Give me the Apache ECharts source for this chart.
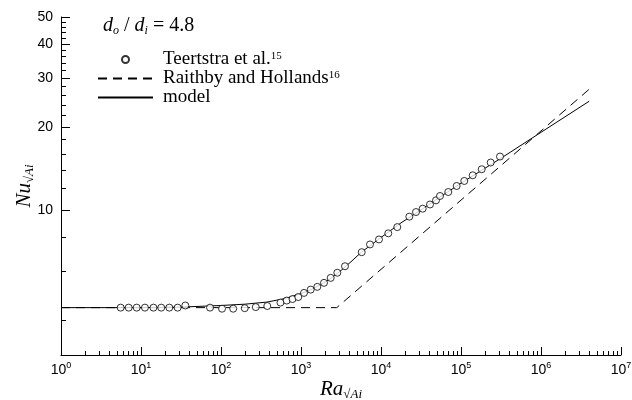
<!DOCTYPE html>
<html>
<head>
<meta charset="utf-8">
<script src="https://cdn.jsdelivr.net/npm/echarts@6/dist/echarts.min.js"></script>
<style>html,body{margin:0;padding:0;background:#fff}#c{width:632px;height:400px}</style>
</head>
<body>
<div id="c"></div>
<script>
// Teertstra et al. data (circles)
const raData = [5.57, 7.01, 8.83, 11.2, 14.3, 17.9, 22.6, 28.7, 35.8, 72.9, 103, 142, 198, 272, 379, 554, 663, 783, 925, 1090, 1322, 1599, 1939, 2350, 2843, 3548, 5740, 7288, 9441, 12340, 15990, 22590, 27380, 33190, 40980, 48700, 54640, 69340, 88310, 109900, 140000, 181500, 235000, 307300];
const nuData = [4.45, 4.45, 4.45, 4.45, 4.45, 4.45, 4.45, 4.45, 4.53, 4.45, 4.41, 4.41, 4.43, 4.47, 4.51, 4.64, 4.72, 4.78, 4.86, 5.03, 5.17, 5.29, 5.47, 5.70, 5.95, 6.28, 7.06, 7.53, 7.85, 8.26, 8.70, 9.49, 9.86, 10.14, 10.5, 10.87, 11.27, 11.65, 12.25, 12.77, 13.39, 14.08, 14.89, 15.65];
// Raithby and Hollands (dashed)
const raRH = [1, 2800, 4000000];
const nuRH = [4.45, 4.45, 27.4];
// model (solid)
const raModel = [1, 10, 31.6, 100, 200, 376, 631, 1000, 1334, 1778, 2371, 3162, 4217, 5623, 10000, 17780, 31620, 56230, 100000, 316200, 794300, 4000000];
const nuModel = [4.45, 4.45, 4.47, 4.53, 4.58, 4.66, 4.80, 5.00, 5.17, 5.39, 5.68, 6.06, 6.52, 7.04, 7.98, 9.01, 10.04, 11.24, 12.53, 15.43, 18.34, 24.8];
// ticks
const xMajorTicks = [1, 10, 100, 1000, 10000, 100000, 1000000, 10000000];
const xMinorTicks = [];
for (let k = 0; k < 7; k++) for (let m = 2; m <= 9; m++) xMinorTicks.push(m * Math.pow(10, k));
const yLabelTicks = [10, 20, 30, 40, 50];
const yMinorTicks = [4, 6, 8, 12, 14, 16, 18, 22, 24, 26, 28, 32, 34, 36, 38, 42, 44, 46, 48];
const supMap = {'Teertstra et al.': '15', 'Raithby and Hollands': '16'};

const zip = (a, b) => a.map((v, i) => [v, b[i]]);
const serif = 'Liberation Serif';
const sans = 'Liberation Sans';

const chart = echarts.init(document.getElementById('c'), null, {renderer: 'canvas'});
chart.setOption({
  animation: false,
  backgroundColor: '#fff',
  title: {
    left: 103, top: 15, padding: 0,
    text: '{i|d}{sb|o}{t| / }{i|d}{sb|i}{t| = 4.8}',
    textStyle: {
      fontWeight: 'normal',
      rich: {
        i: {fontFamily: serif, fontStyle: 'italic', fontWeight: 'normal', fontSize: 20, lineHeight: 22, color: '#000'},
        sb: {fontFamily: serif, fontStyle: 'italic', fontWeight: 'normal', fontSize: 12, lineHeight: 11, verticalAlign: 'bottom', color: '#000'},
        t: {fontFamily: serif, fontWeight: 'normal', fontSize: 20, lineHeight: 22, color: '#000'}
      }
    }
  },
  legend: {
    left: 97, top: 50, orient: 'vertical', padding: 0,
    itemWidth: 55, itemHeight: 7, itemGap: 0,
    data: [
      {name: 'Teertstra et al.'},
      {name: 'Raithby and Hollands', itemStyle: {opacity: 0}},
      {name: 'model', itemStyle: {opacity: 0}}
    ],
    formatter: function (name) {
      const s = supMap[name];
      return '{n|' + name + '}' + (s ? '{s|' + s + '}' : '');
    },
    textStyle: {
      rich: {
        n: {fontFamily: serif, fontSize: 19, lineHeight: 18.5, color: '#000', padding: [0, 0, 0, 5]},
        s: {fontFamily: serif, fontSize: 11, lineHeight: 10, verticalAlign: 'top', color: '#000'}
      }
    }
  },
  grid: {left: 61, right: 11, top: 17, bottom: 45, containLabel: false, outerBoundsMode: 'none'},
  xAxis: [{
    type: 'log', logBase: 10, min: 1, max: 10000000,
    name: '{i|Ra}{sb|√Ai}', nameLocation: 'middle', nameGap: 22, nameMoveOverlap: false,
    nameTextStyle: {
      rich: {
        i: {fontFamily: serif, fontStyle: 'italic', fontSize: 21, lineHeight: 24, color: '#000'},
        sb: {fontFamily: serif, fontStyle: 'italic', fontSize: 13, lineHeight: 13, verticalAlign: 'bottom', color: '#000'}
      }
    },
    axisLine: {show: true, lineStyle: {color: '#000', width: 1}},
    axisTick: {show: true, inside: true, length: 8, lineStyle: {color: '#000'}, customValues: xMajorTicks},
    axisLabel: {
      customValues: xMajorTicks, margin: 6,
      formatter: function (v) { return '{b|10}{s|' + Math.round(Math.log10(v)) + '}'; },
      rich: {
        b: {fontFamily: sans, fontSize: 14, lineHeight: 18, color: '#000'},
        s: {fontFamily: sans, fontSize: 9, lineHeight: 9, verticalAlign: 'top', color: '#000'}
      }
    },
    splitLine: {show: false}, minorTick: {show: false}
  }, {
    type: 'log', logBase: 10, min: 1, max: 10000000, position: 'bottom',
    axisLine: {show: false},
    axisTick: {show: true, inside: true, length: 4, lineStyle: {color: '#000'}, customValues: xMinorTicks},
    axisLabel: {show: false}, splitLine: {show: false}
  }],
  yAxis: [{
    type: 'log', logBase: 10, min: 3, max: 50,
    name: '{i|Nu}{sb|√Ai}', nameLocation: 'middle', nameGap: 25, nameMoveOverlap: false,
    nameTextStyle: {
      rich: {
        i: {fontFamily: serif, fontStyle: 'italic', fontSize: 21, lineHeight: 24, color: '#000'},
        sb: {fontFamily: serif, fontStyle: 'italic', fontSize: 13, lineHeight: 13, verticalAlign: 'bottom', color: '#000'}
      }
    },
    axisLine: {show: true, lineStyle: {color: '#000', width: 1}},
    axisTick: {show: true, inside: true, length: 9, lineStyle: {color: '#000'}, customValues: yLabelTicks},
    axisLabel: {customValues: yLabelTicks, margin: 8, fontFamily: sans, fontSize: 14, color: '#000'},
    splitLine: {show: false}, minorTick: {show: false}
  }, {
    type: 'log', logBase: 10, min: 3, max: 50, position: 'left',
    axisLine: {show: false},
    axisTick: {show: true, inside: true, length: 5, lineStyle: {color: '#000'}, customValues: yMinorTicks},
    axisLabel: {show: false}, splitLine: {show: false}
  }],
  series: [{
    name: 'Teertstra et al.', type: 'scatter', data: zip(raData, nuData),
    symbol: 'circle', symbolSize: 7,
    itemStyle: {color: '#fff', borderColor: '#000', borderWidth: 1}, z: 5
  }, {
    name: 'Raithby and Hollands', type: 'line', data: zip(raRH, nuRH),
    showSymbol: false, symbol: 'none',
    lineStyle: {color: '#000', width: 1, type: [9, 6]}, itemStyle: {color: '#000'}
  }, {
    name: 'model', type: 'line', data: zip(raModel, nuModel),
    showSymbol: false, symbol: 'none', smooth: false,
    lineStyle: {color: '#000', width: 1}, itemStyle: {color: '#000'}
  }]
});
</script>
</body>
</html>
